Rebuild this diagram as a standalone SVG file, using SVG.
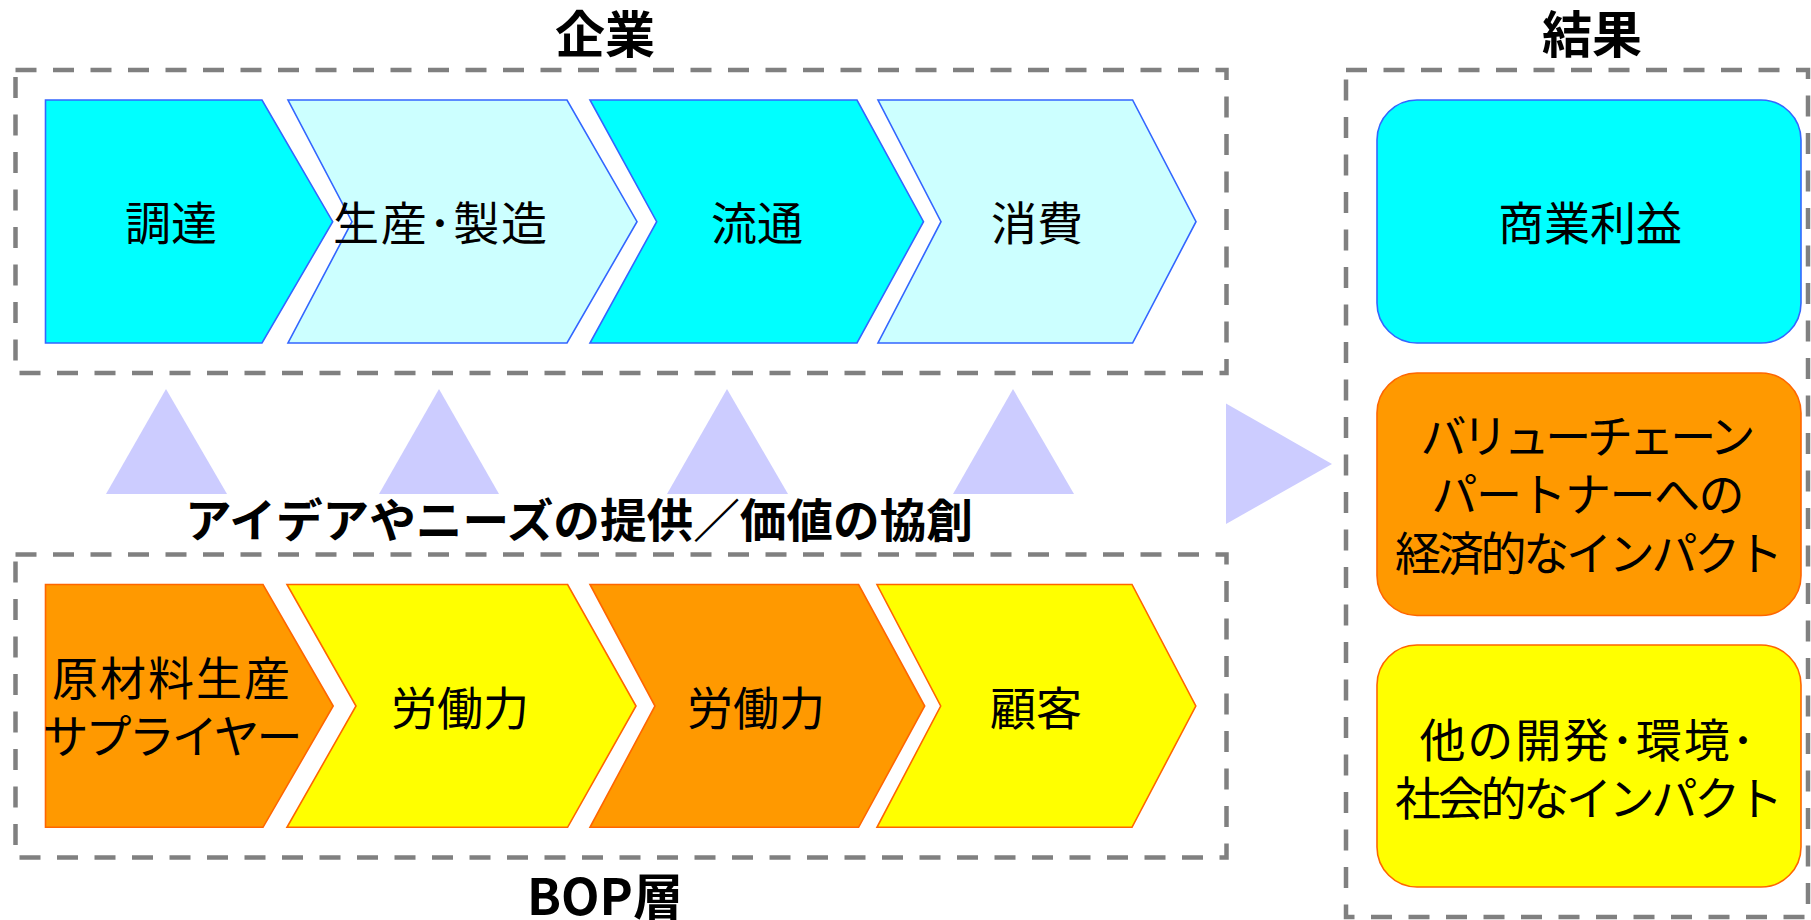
<svg xmlns="http://www.w3.org/2000/svg" width="1811" height="920" viewBox="0 0 1811 920">
<style>
  .frame { fill: none; stroke: #808080; stroke-width: 4.5; stroke-dasharray: 21 16.5; }
  .cy { fill: #00FFFF; stroke: #3366FF; stroke-width: 1.6; }
  .lc { fill: #CCFFFF; stroke: #3366FF; stroke-width: 1.6; }
  .or { fill: #FF9900; stroke: #FF6600; stroke-width: 1.6; }
  .ye { fill: #FFFF00; stroke: #FF6600; stroke-width: 1.6; }
  .tri { fill: #CCCCFF; stroke: none; }
  text { font-family: "Noto Sans CJK JP", "Liberation Sans", sans-serif; fill: #000000; text-anchor: middle; }
  .title { font-size: 50px; font-weight: bold; }
  .lbl { font-size: 46px; }
  .mid { font-size: 46px; font-weight: bold; }
</style>
<rect width="1811" height="920" fill="#FFFFFF"/>

<g id="frames">
  <rect class="frame" x="15.5" y="70" width="1211" height="303"/>
  <rect class="frame" x="15.5" y="554.5" width="1211" height="303"/>
  <rect class="frame" x="1346" y="70" width="462" height="847"/>
</g>

<g id="titles">
  <text class="title" x="605" y="53">企業</text>
  <text class="title" x="1592" y="53">結果</text>
  <text class="title" x="605" y="915">BOP層</text>
</g>

<g id="connectors">
  <polygon class="tri" points="166,389 106,494 227,494"/>
  <polygon class="tri" points="439,389 379,494 499,494"/>
  <polygon class="tri" points="727,389 667,494 788,494"/>
  <polygon class="tri" points="1013,389 953,494 1074,494"/>
  <polygon class="tri" points="1226,403.5 1332,464 1226,524"/>
</g>

<g id="label-cocreation">
  <text class="mid" x="579" y="537" textLength="788" lengthAdjust="spacingAndGlyphs">アイデアやニーズの提供／価値の協創</text>
</g>

<g id="node-procurement">
  <polygon class="cy" points="45.5,100 262,100 332.7,221.7 262,343 45.5,343"/>
  <text class="lbl" x="171" y="240">調達</text>
</g>
<g id="node-production">
  <polygon class="lc" points="288,100 567,100 637,221.7 567,343 288,343 352,221.7"/>
  <text class="lbl" x="440" y="240" textLength="214" lengthAdjust="spacing">生産･製造</text>
</g>
<g id="node-distribution">
  <polygon class="cy" points="590,100 857,100 923.5,221.7 857,343 590,343 656.7,221.7"/>
  <text class="lbl" x="757" y="240">流通</text>
</g>
<g id="node-consumption">
  <polygon class="lc" points="878,100 1132.6,100 1196,221.7 1132.6,343 878,343 941,221.7"/>
  <text class="lbl" x="1037" y="240">消費</text>
</g>

<g id="node-supplier">
  <polygon class="or" points="45.5,584.5 263,584.5 333.2,706 263,827.3 45.5,827.3"/>
  <text class="lbl" x="171" y="695" textLength="238" lengthAdjust="spacing">原材料生産</text>
  <text class="lbl" x="172.5" y="753" textLength="260" lengthAdjust="spacing">サプライヤー</text>
</g>
<g id="node-labor1">
  <polygon class="ye" points="287,584.5 567.6,584.5 636,706 567.6,827.3 287,827.3 356,706"/>
  <text class="lbl" x="460" y="725">労働力</text>
</g>
<g id="node-labor2">
  <polygon class="or" points="590,584.5 858.6,584.5 924.7,706 858.6,827.3 590,827.3 655,706"/>
  <text class="lbl" x="756" y="725">労働力</text>
</g>
<g id="node-customer">
  <polygon class="ye" points="877,584.5 1132,584.5 1195.8,706 1132,827.3 877,827.3 940.7,706"/>
  <text class="lbl" x="1036" y="725">顧客</text>
</g>

<g id="node-profit">
  <rect class="cy" x="1377" y="100" width="424" height="243" rx="40" ry="40"/>
  <text class="lbl" x="1590" y="240">商業利益</text>
</g>
<g id="node-economic">
  <rect class="or" x="1377" y="373" width="424" height="242.5" rx="40" ry="40"/>
  <text class="lbl" x="1588" y="453" textLength="335" lengthAdjust="spacing">バリューチェーン</text>
  <text class="lbl" x="1588" y="511" textLength="313" lengthAdjust="spacing">パートナーへの</text>
  <text class="lbl" x="1589" y="570" textLength="388" lengthAdjust="spacing">経済的なインパクト</text>
</g>
<g id="node-social">
  <rect class="ye" x="1377" y="645" width="424" height="242" rx="40" ry="40"/>
  <text class="lbl" x="1587" y="757" textLength="335" lengthAdjust="spacing">他の開発･環境･</text>
  <text class="lbl" x="1589" y="815" textLength="388" lengthAdjust="spacing">社会的なインパクト</text>
</g>
</svg>
